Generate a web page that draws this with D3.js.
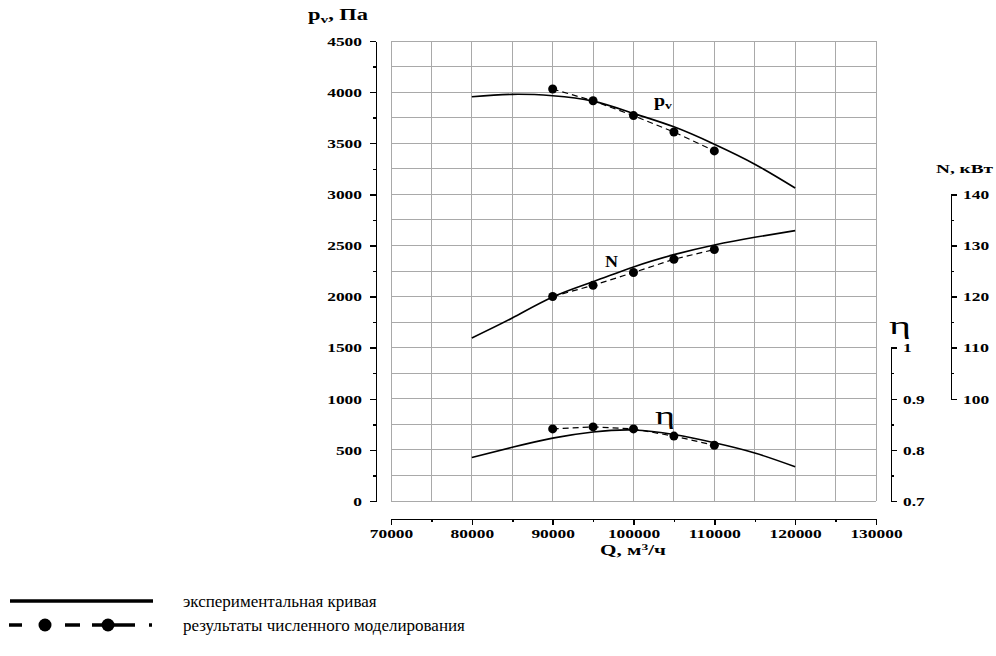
<!DOCTYPE html>
<html><head><meta charset="utf-8">
<script src="https://cdn.jsdelivr.net/npm/d3@7"></script>
<style>body{margin:0;background:#fff} svg{display:block}</style>
</head><body><svg id="c" width="996" height="656"></svg>
<script>
// ---- data ----
const Q_exp   = [80000, 85000, 90000, 95000, 100000, 105000, 110000, 115000, 120000];
const pv_exp  = [3955, 3978, 3965, 3912, 3792, 3660, 3490, 3295, 3062];
const N_exp   = [111.9, 115.8, 119.9, 122.9, 125.8, 128.2, 130.1, 131.6, 132.9];
const eta_exp = [0.785, 0.805, 0.823, 0.835, 0.839, 0.830, 0.814, 0.794, 0.767];
const Q_sim   = [90000, 95000, 100000, 105000, 110000];
const pv_sim  = [4030, 3915, 3770, 3610, 3425];
const N_sim   = [120.0, 122.2, 124.7, 127.3, 129.2];
const eta_sim = [0.841, 0.845, 0.841, 0.827, 0.809];
const qTicks   = d3.range(70000, 130001, 5000);
const pTicks   = d3.range(0, 4501, 250);
const nTicks   = d3.range(100, 140.01, 5);
const etaTicks = [0.7, 0.75, 0.8, 0.85, 0.9, 0.95, 1.0];
const legendLabels = ["экспериментальная кривая", "результаты численного моделирования"];

// ---- scales ----
const svg = d3.select("#c");
const x  = d3.scaleLinear().domain([70000, 130000]).range([391, 876]);
const yP = d3.scaleLinear().domain([0, 4500]).range([501, 41]);
const yN = d3.scaleLinear().domain([100, 140]).range([yP(1000), yP(3000)]);
const yE = d3.scaleLinear().domain([0.7, 1.0]).range([yP(0), yP(1500)]);

const FONT = "'Liberation Serif','Times New Roman',serif";
const cw = s => Array.from(String(s)).reduce((a, c) => a + (c === "." ? 4.2 : 8.7), 0);

// ---- grid ----
const grid = svg.append("g").attr("stroke", "#a9a9a9").attr("stroke-width", 1).attr("shape-rendering", "crispEdges");
grid.selectAll("line.v").data(qTicks).join("line")
  .attr("x1", d => x(d)).attr("x2", d => x(d)).attr("y1", yP(0)).attr("y2", yP(4500));
grid.selectAll("line.h").data(pTicks).join("line")
  .attr("x1", x(70000)).attr("x2", x(130000)).attr("y1", d => yP(d)).attr("y2", d => yP(d));

function styleAxis(g, isMajor, sign, horiz) {
  g.select(".domain").attr("stroke", "#000").attr("stroke-width", 1.7);
  g.selectAll(".tick line").attr("stroke", "#000").attr("stroke-width", 1.5)
    .attr(horiz ? "y2" : "x2", d => sign * (isMajor(d) ? 6 : 3));
  g.selectAll(".tick text").attr("font-family", FONT).attr("font-weight", "bold")
    .attr("font-size", 13.5).attr("fill", "#000")
    .each(function () {
      const t = this.textContent;
      if (t) d3.select(this).attr("textLength", cw(t)).attr("lengthAdjust", "spacingAndGlyphs");
    });
  g.attr("shape-rendering", "crispEdges");
}

// left axis
const isP = d => d % 500 === 0;
const gl = svg.append("g").attr("transform", "translate(376,0)")
  .call(d3.axisLeft(yP).tickValues(pTicks).tickFormat(d => isP(d) ? d : "").tickSizeOuter(0).tickPadding(8));
styleAxis(gl, isP, -1, false);

// bottom axis
const isQ = d => d % 10000 === 0;
const gb = svg.append("g").attr("transform", "translate(0,519)")
  .call(d3.axisBottom(x).tickValues(qTicks).tickFormat(d => isQ(d) ? d : "").tickSizeOuter(0).tickPadding(3));
styleAxis(gb, isQ, 1, true);

// eta axis
const isE = d => Math.abs(d * 10 - Math.round(d * 10)) < 1e-6;
const ge = svg.append("g").attr("transform", "translate(891,0)")
  .call(d3.axisRight(yE).tickValues(etaTicks).tickFormat(d => isE(d) ? String(+d.toFixed(1)) : "").tickSizeOuter(0).tickPadding(6));
styleAxis(ge, isE, 1, false);

// N axis
const isN = d => d % 10 === 0;
const gn = svg.append("g").attr("transform", "translate(951,0)")
  .call(d3.axisRight(yN).tickValues(nTicks).tickFormat(d => isN(d) ? d : "").tickSizeOuter(0).tickPadding(6));
styleAxis(gn, isN, 1, false);

// ---- curves ----
function series(ys, yScale) {
  const pts = Q_exp.map((q, i) => [q, ys[i]]);
  svg.append("path").datum(pts)
    .attr("d", d3.line().x(d => x(d[0])).y(d => yScale(d[1])).curve(d3.curveNatural))
    .attr("fill", "none").attr("stroke", "#000").attr("stroke-width", 1.6);
}
function sim(ys, yScale) {
  const pts = Q_sim.map((q, i) => [q, ys[i]]);
  svg.append("path").datum(pts)
    .attr("d", d3.line().x(d => x(d[0])).y(d => yScale(d[1])))
    .attr("fill", "none").attr("stroke", "#000").attr("stroke-width", 1.2).attr("stroke-dasharray", "6,4");
  svg.append("g").selectAll("circle").data(pts).join("circle")
    .attr("cx", d => x(d[0])).attr("cy", d => yScale(d[1])).attr("r", 4.5).attr("fill", "#000");
}
series(pv_exp, yP); sim(pv_sim, yP);
series(N_exp, yN);  sim(N_sim, yN);
series(eta_exp, yE); sim(eta_sim, yE);

// ---- titles & labels ----
function txt(xp, yp, size, weight, anchor, len) {
  const t = svg.append("text").attr("x", xp).attr("y", yp).attr("font-family", FONT)
    .attr("font-size", size).attr("font-weight", weight).attr("text-anchor", anchor).attr("fill", "#000");
  if (len) t.attr("textLength", len).attr("lengthAdjust", "spacingAndGlyphs");
  return t;
}
let t = txt(308, 20, 16, "bold", "start", 60);
t.append("tspan").text("p");
t.append("tspan").attr("font-size", 11).attr("dy", 3).text("v");
t.append("tspan").attr("dy", -3).text(", Па");

txt(993, 173, 13.5, "bold", "end", 57).text("N, кВт");
txt(889, 334, 25, "normal", "start", 22).text("η");

t = txt(633, 555, 14, "bold", "middle", 66);
t.append("tspan").text("Q, м");
t.append("tspan").attr("font-size", 9).attr("dy", -5).text("3");
t.append("tspan").attr("dy", 5).text("/ч");

t = txt(654, 106, 16, "bold", "start", 18);
t.append("tspan").text("p");
t.append("tspan").attr("font-size", 11).attr("dy", 3).text("v");
txt(605, 267, 16, "bold", "start", 13).text("N");
txt(655, 424, 25, "normal", "start", 20).text("η");

// ---- legend ----
const lg = svg.append("g");
lg.append("line").attr("x1", 10).attr("x2", 153).attr("y1", 601).attr("y2", 601).attr("stroke", "#000").attr("stroke-width", 3.5);
[[9, 22], [65, 80], [92, 100], [100, 135], [149, 152]].forEach(s =>
  lg.append("line").attr("x1", s[0]).attr("x2", s[1]).attr("y1", 625).attr("y2", 625).attr("stroke", "#000").attr("stroke-width", 3.5));
[45, 108].forEach(cx => lg.append("circle").attr("cx", cx).attr("cy", 625).attr("r", 6.5).attr("fill", "#000"));
legendLabels.forEach((s, i) =>
  lg.append("text").attr("x", 183).attr("y", 607 + i * 24).attr("font-family", FONT).attr("font-size", 17).attr("fill", "#000").text(s));
</script></body></html>
